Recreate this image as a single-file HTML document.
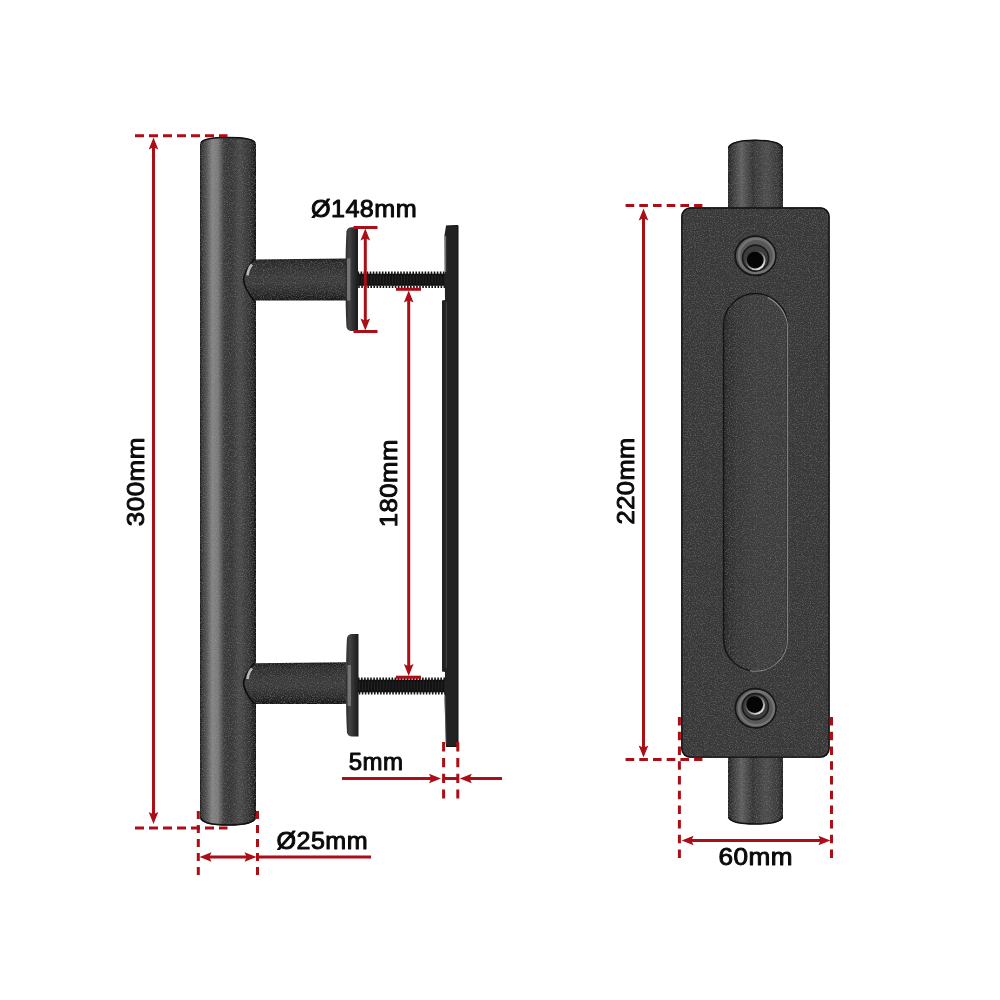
<!DOCTYPE html>
<html><head><meta charset="utf-8">
<style>
html,body{margin:0;padding:0;background:#fff;width:1000px;height:1000px;overflow:hidden}
svg{display:block;will-change:transform}
text{font-family:"Liberation Sans",sans-serif;font-weight:normal;fill:#0a0a0a;stroke:#0a0a0a;stroke-width:0.95px;stroke-linejoin:round}
</style></head>
<body>
<svg width="1000" height="1000" viewBox="0 0 1000 1000">
<defs>
  <filter id="noise" x="0" y="0" width="100%" height="100%" filterUnits="objectBoundingBox">
    <feTurbulence type="fractalNoise" baseFrequency="0.85" numOctaves="2" seed="7" result="t"/>
    <feColorMatrix in="t" type="matrix" values="0 0 0 0 1  0 0 0 0 1  0 0 0 0 1  2.2 0 0 0 -1.05" result="w"/>
    <feColorMatrix in="t" type="matrix" values="0 0 0 0 0  0 0 0 0 0  0 0 0 0 0  -2.2 0 0 0 0.95" result="k"/>
    <feComposite in="w" in2="SourceGraphic" operator="in" result="w2"/>
    <feComposite in="k" in2="SourceGraphic" operator="in" result="k2"/>
    <feComponentTransfer in="w2" result="w3"><feFuncA type="linear" slope="0.10"/></feComponentTransfer>
    <feComponentTransfer in="k2" result="k3"><feFuncA type="linear" slope="0.18"/></feComponentTransfer>
    <feMerge><feMergeNode in="SourceGraphic"/><feMergeNode in="w3"/><feMergeNode in="k3"/></feMerge>
  </filter>
  <linearGradient id="barG" x1="200" x2="256" y1="0" y2="0" gradientUnits="userSpaceOnUse">
    <stop offset="0" stop-color="#1a1a1a"/>
    <stop offset="0.04" stop-color="#3a3a3a"/>
    <stop offset="0.12" stop-color="#555"/>
    <stop offset="0.22" stop-color="#858585"/>
    <stop offset="0.32" stop-color="#7a7a7a"/>
    <stop offset="0.43" stop-color="#3c3c3c"/>
    <stop offset="0.55" stop-color="#363636"/>
    <stop offset="0.72" stop-color="#4a4a4a"/>
    <stop offset="0.88" stop-color="#353535"/>
    <stop offset="0.96" stop-color="#242424"/>
    <stop offset="1" stop-color="#131313"/>
  </linearGradient>
  <linearGradient id="standG" x1="0" x2="0" y1="0" y2="1">
    <stop offset="0" stop-color="#181818"/>
    <stop offset="0.1" stop-color="#2c2c2c"/>
    <stop offset="0.4" stop-color="#3a3a3a"/>
    <stop offset="0.6" stop-color="#3a3a3a"/>
    <stop offset="0.85" stop-color="#2a2a2a"/>
    <stop offset="1" stop-color="#161616"/>
  </linearGradient>
  <linearGradient id="washG" x1="0" x2="1" y1="0" y2="0">
    <stop offset="0" stop-color="#2a2a2a"/>
    <stop offset="0.3" stop-color="#444"/>
    <stop offset="0.55" stop-color="#333"/>
    <stop offset="1" stop-color="#1a1a1a"/>
  </linearGradient>
  <linearGradient id="cylG" x1="0" x2="1" y1="0" y2="0">
    <stop offset="0" stop-color="#222"/>
    <stop offset="0.08" stop-color="#3a3a3a"/>
    <stop offset="0.25" stop-color="#606060"/>
    <stop offset="0.45" stop-color="#353535"/>
    <stop offset="0.7" stop-color="#4e4e4e"/>
    <stop offset="0.92" stop-color="#383838"/>
    <stop offset="1" stop-color="#1e1e1e"/>
  </linearGradient>
  <linearGradient id="slotG" x1="723" x2="788" y1="0" y2="0" gradientUnits="userSpaceOnUse">
    <stop offset="0" stop-color="#222"/>
    <stop offset="0.06" stop-color="#2e2e2e"/>
    <stop offset="0.22" stop-color="#383838"/>
    <stop offset="0.6" stop-color="#3e3e3e"/>
    <stop offset="1" stop-color="#3c3c3c"/>
  </linearGradient>
  <linearGradient id="ringG" x1="0.2" x2="0.8" y1="0.1" y2="0.9">
    <stop offset="0" stop-color="#2a2a2a"/>
    <stop offset="0.45" stop-color="#777"/>
    <stop offset="1" stop-color="#e8e8e8"/>
  </linearGradient>
  <pattern id="thread" x="0" y="0" width="2.4" height="30" patternUnits="userSpaceOnUse">
    <rect x="0" y="0" width="2.4" height="30" fill="#fff"/>
  </pattern>
</defs>

<g filter="url(#noise)">
<path d="M200,144 Q201,137 228,137 Q255,137 256,144 L256,818 Q255,825.5 228,825.5 Q201,825.5 200,818 Z" fill="url(#barG)"/>
</g>
<path d="M201,143 Q203,137.5 228,137.5 Q253,137.5 255,143" fill="none" stroke="#111" stroke-width="1.5"/>
<path d="M201,818 Q203,825 228,825 Q253,825 255,818" fill="none" stroke="#111" stroke-width="1.5"/>
<g filter="url(#noise)">
<path d="M254,259.5 L346,258.5 L346,300.4 L254,300.4 C250,295.4 244,286.45 243.5,279.45 C244,272.45 250,264.5 254,259.5 Z" fill="url(#standG)"/>
<path d="M254,663.3 L346,662.3 L346,704 L254,704 C250,699 244,690.15 243.5,683.15 C244,676.15 250,668.3 254,663.3 Z" fill="url(#standG)"/>
</g>
<path d="M254,300.4 C250,295.4 244,286.45 243.5,279.45 C244,272.45 250,264.5 254,259.5" fill="none" stroke="#0e0e0e" stroke-width="1.6"/><path d="M247.5,275.45 C248,270.45 250,266.5 252,264.5" fill="none" stroke="#d0d0d0" stroke-width="2.6" opacity="0.85"/>
<path d="M254,704 C250,699 244,690.15 243.5,683.15 C244,676.15 250,668.3 254,663.3" fill="none" stroke="#0e0e0e" stroke-width="1.6"/><path d="M247.5,679.15 C248,674.15 250,670.3 252,668.3" fill="none" stroke="#d0d0d0" stroke-width="2.6" opacity="0.85"/>
<rect x="357.5" y="273.7" width="87.5" height="12.1" fill="#121212"/><line x1="357.5" y1="272.8" x2="445" y2="272.8" stroke="#121212" stroke-width="2.6" stroke-dasharray="1.6,1.45"/><line x1="358.2" y1="286.7" x2="445" y2="286.7" stroke="#121212" stroke-width="2.6" stroke-dasharray="1.6,1.45"/><line x1="358.5" y1="279.75" x2="445" y2="279.75" stroke="#3a3a3a" stroke-width="8.5" stroke-dasharray="0.8,2.25" opacity="0.55"/>
<rect x="358" y="679.7" width="87" height="12.6" fill="#121212"/><line x1="358" y1="678.8" x2="445" y2="678.8" stroke="#121212" stroke-width="2.6" stroke-dasharray="1.6,1.45"/><line x1="358.7" y1="693.2" x2="445" y2="693.2" stroke="#121212" stroke-width="2.6" stroke-dasharray="1.6,1.45"/><line x1="359" y1="686.0" x2="445" y2="686.0" stroke="#3a3a3a" stroke-width="9.0" stroke-dasharray="0.8,2.25" opacity="0.55"/>
<path d="M346.5,231.3 Q347.5,227.3 351.5,227.3 L358,227.3 L358,331 L351.5,331 Q347.5,331 346.5,327 Q345.5,311 345.5,279.15 Q345.5,247.3 346.5,231.3 Z" fill="url(#washG)"/><line x1="348.7" y1="258.3" x2="348.7" y2="300.5" stroke="#8a8a8a" stroke-width="3.4" opacity="0.7"/>
<path d="M347,638 Q348,634 352,634 L358.5,634 L358.5,736.5 L352,736.5 Q348,736.5 347,732.5 Q346,716.5 346,685.25 Q346,654 347,638 Z" fill="url(#washG)"/><line x1="349.2" y1="665" x2="349.2" y2="706.0" stroke="#8a8a8a" stroke-width="3.4" opacity="0.7"/>
<path d="M446,226 L458,225.5 L458,746.5 L446,746.5 L444.5,700 L445,672 L442,671.5 L442,300.5 L445,300 L444.5,235 Z" fill="#222"/>
<path d="M446,226 L458,225.5 L458,746.5 L446,746.5" fill="none" stroke="#111" stroke-width="1"/>
<path d="M444.6,236 L446.2,236 L446.2,272 L444.4,272 Z" fill="#8c8c8c" opacity="0.75"/>
<line x1="446.3" y1="302" x2="446.3" y2="668" stroke="#5a5a5a" stroke-width="0.9" opacity="0.8"/>
<line x1="445.2" y1="696" x2="446" y2="744" stroke="#6a6a6a" stroke-width="0.9" opacity="0.7"/>
<g filter="url(#noise)">
<path d="M728,148 Q730,140 755.5,139.8 Q781,140 783,148 L783,210 L728,210 Z" fill="url(#cylG)"/>
<path d="M728,754 L783,754 L783,817 Q781,824.3 755.5,824.3 Q730,824.3 728,817 Z" fill="url(#cylG)"/>
</g>
<path d="M728.5,148 Q730.5,140.5 755.5,140.3 Q780.5,140.5 782.5,148" fill="none" stroke="#111" stroke-width="1.5"/>
<path d="M728.5,817 Q730.5,824 755.5,824 Q780.5,824 782.5,817" fill="none" stroke="#111" stroke-width="1.5"/>
<g filter="url(#noise)">
<rect x="681.2" y="207.3" width="148.5" height="550.5" rx="9" fill="#373737"/>
<rect x="723" y="293" width="65" height="378.5" rx="32.5" fill="url(#slotG)"/>
</g>
<rect x="681.9" y="208" width="147.1" height="549.1" rx="8.5" fill="none" stroke="#111" stroke-width="1.4"/>
<rect x="723.5" y="293.5" width="64" height="377.5" rx="32" fill="none" stroke="#151515" stroke-width="1.4"/>
<path d="M768,297.5 Q786,308 787.6,326 L787.6,638.5 A32,32 0 0 1 750,670.6" fill="none" stroke="#a0a0a0" stroke-width="1.1" opacity="0.8"/>
<ellipse cx="755.5" cy="255.8" rx="20.3" ry="19.6" fill="#585858" stroke="#161616" stroke-width="1.8"/><ellipse cx="756.5" cy="255.8" rx="17.5" ry="17" fill="none" stroke="#8a8a8a" stroke-width="2.5" opacity="0.55"/><circle cx="755.6" cy="258.15" r="13" fill="#3e3e3e" stroke="#1a1a1a" stroke-width="1.6"/><circle cx="755.7" cy="260.5" r="9.8" fill="url(#ringG)"/><circle cx="755.2" cy="260.1" r="8.4" fill="#050505"/>
<ellipse cx="755.6" cy="708.3" rx="20.3" ry="19.6" fill="#585858" stroke="#161616" stroke-width="1.8"/><ellipse cx="756.6" cy="708.3" rx="17.5" ry="17" fill="none" stroke="#8a8a8a" stroke-width="2.5" opacity="0.55"/><circle cx="755.4000000000001" cy="706.65" r="13" fill="#3e3e3e" stroke="#1a1a1a" stroke-width="1.6"/><circle cx="755.2" cy="705" r="9.8" fill="url(#ringG)"/><circle cx="754.7" cy="704.6" r="8.4" fill="#050505"/>
<g fill="none" stroke="#aa0e16" stroke-width="3">
<line x1="135" y1="135.7" x2="227.5" y2="135.7" stroke-dasharray="9,5"/>
<line x1="135" y1="828" x2="227.5" y2="828" stroke-dasharray="9,5"/>
<line x1="153.5" y1="146" x2="153.5" y2="815"/>
<line x1="198.3" y1="811" x2="198.3" y2="877" stroke-dasharray="8,6"/>
<line x1="257.5" y1="811" x2="257.5" y2="877" stroke-dasharray="8,6"/>
<line x1="207" y1="857" x2="249" y2="857"/>
<line x1="257.5" y1="857" x2="371" y2="857"/>
<line x1="365.3" y1="236" x2="365.3" y2="323"/>
<line x1="353.5" y1="227.5" x2="377.5" y2="227.5"/>
<line x1="353.5" y1="331.5" x2="377.5" y2="331.5"/>
<line x1="408.7" y1="298" x2="408.7" y2="668"/>
<line x1="396" y1="289.3" x2="421" y2="289.3"/>
<line x1="396" y1="677.2" x2="421" y2="677.2"/>
<line x1="443.6" y1="742.1" x2="443.6" y2="798.5" stroke-dasharray="9.4,6.4"/>
<line x1="457.8" y1="742.1" x2="457.8" y2="798.5" stroke-dasharray="9.4,6.4"/>
<line x1="342" y1="778.5" x2="432" y2="778.5"/>
<line x1="443.6" y1="778.5" x2="457.8" y2="778.5"/>
<line x1="469" y1="778.5" x2="502" y2="778.5"/>
<line x1="625.6" y1="205.4" x2="702.4" y2="205.4" stroke-dasharray="8.6,5.1"/>
<line x1="625.6" y1="759.4" x2="702.4" y2="759.4" stroke-dasharray="8.6,5.1"/>
<line x1="643.5" y1="217" x2="643.5" y2="749"/>
<line x1="679.4" y1="717" x2="679.4" y2="858.5" stroke-dasharray="8.5,6.23"/>
<line x1="831.5" y1="717" x2="831.5" y2="858.5" stroke-dasharray="8.5,6.23"/>
<line x1="690" y1="840.5" x2="822" y2="840.5"/>
</g>
<g fill="#aa0e16">
<path d="M153.5,137.5 l4.8,12 l-4.8,-2.2 l-4.8,2.2 Z"/>
<path d="M153.5,824 l4.8,-12 l-4.8,2.2 l-4.8,-2.2 Z"/>
<path d="M365.3,228.5 l4.8,12 l-4.8,-2.2 l-4.8,2.2 Z"/>
<path d="M365.3,330.5 l4.8,-12 l-4.8,2.2 l-4.8,-2.2 Z"/>
<path d="M408.7,290.5 l4.8,12 l-4.8,-2.2 l-4.8,2.2 Z"/>
<path d="M408.7,676 l4.8,-12 l-4.8,2.2 l-4.8,-2.2 Z"/>
<path d="M643.5,208.5 l4.8,12 l-4.8,-2.2 l-4.8,2.2 Z"/>
<path d="M643.5,757.5 l4.8,-12 l-4.8,2.2 l-4.8,-2.2 Z"/>
<path d="M199.5,857 l12,-4.8 l-2.2,4.8 l2.2,4.8 Z"/>
<path d="M256.5,857 l-12,-4.8 l2.2,4.8 l-2.2,4.8 Z"/>
<path d="M441,778.5 l-12,-4.8 l2.2,4.8 l-2.2,4.8 Z"/>
<path d="M459.8,778.5 l12,-4.8 l-2.2,4.8 l2.2,4.8 Z"/>
<path d="M681.6,840.5 l12,-4.8 l-2.2,4.8 l2.2,4.8 Z"/>
<path d="M830.4,840.5 l-12,-4.8 l2.2,4.8 l-2.2,4.8 Z"/>
</g>
<text transform="translate(311.00,217.00) scale(1.0501,1)" font-size="24.0" letter-spacing="0.4">Ø148mm</text>
<text transform="translate(348.80,770.00) scale(1.0005,1)" font-size="24.0" letter-spacing="0.4">5mm</text>
<text transform="translate(276.60,849.00) scale(1.0467,1)" font-size="24.0" letter-spacing="0.4">Ø25mm</text>
<text transform="translate(718.60,864.60) scale(1.0898,1)" font-size="24.0" letter-spacing="0.4">60mm</text>
<text transform="translate(144.40,526.20) rotate(-90) scale(1.0865,1)" font-size="24.0" letter-spacing="0.4">300mm</text>
<text transform="translate(397.20,527.20) rotate(-90) scale(1.0751,1)" font-size="24.0" letter-spacing="0.4">180mm</text>
<text transform="translate(633.80,524.40) rotate(-90) scale(1.0621,1)" font-size="24.0" letter-spacing="0.4">220mm</text>
</svg>
</body></html>
